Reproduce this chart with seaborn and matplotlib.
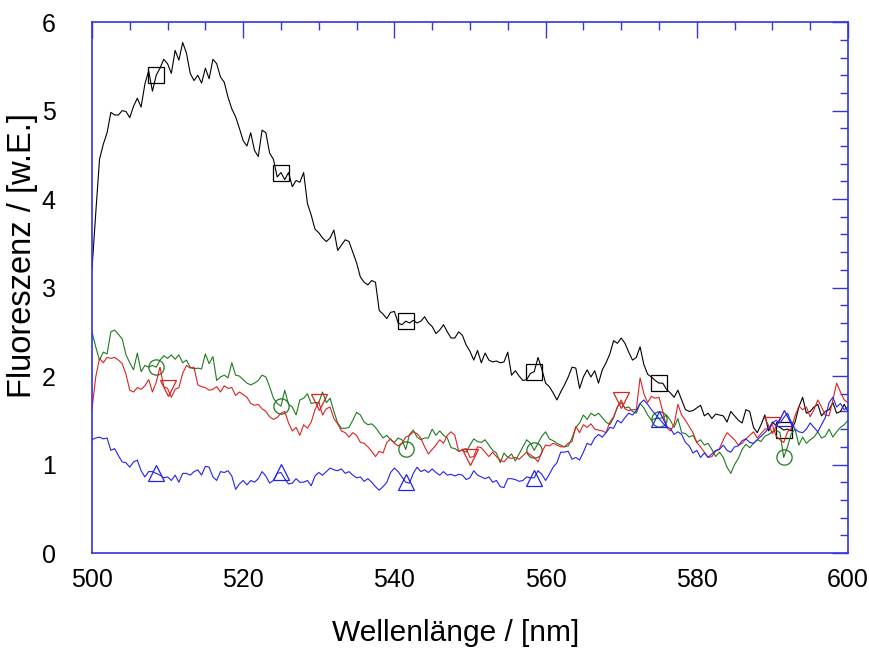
import matplotlib
matplotlib.use("Agg")
import matplotlib.pyplot as plt
from matplotlib.ticker import MultipleLocator, AutoMinorLocator
import numpy as np
import seaborn as sns

# wavelength grid, 0.5 nm steps from 500 to 600 nm
wl = np.linspace(500, 600, 201)

black = [
3.20, 3.84, 4.45, 4.62, 4.75, 4.98, 4.95, 4.95, 5.00, 4.99,
4.92, 5.05, 5.14, 5.04, 5.30, 5.45, 5.22, 5.40, 5.48, 5.58,
5.53, 5.42, 5.68, 5.57, 5.77, 5.65, 5.42, 5.34, 5.40, 5.31,
5.48, 5.36, 5.58, 5.53, 5.38, 5.32, 5.15, 5.02, 4.93, 4.80,
4.66, 4.60, 4.75, 4.55, 4.48, 4.78, 4.75, 4.52, 4.45, 4.25,
4.30, 4.22, 4.30, 4.14, 4.21, 4.19, 4.30, 3.95, 3.82, 3.66,
3.62, 3.56, 3.52, 3.56, 3.65, 3.42, 3.48, 3.54, 3.52, 3.40,
3.28, 3.12, 3.06, 3.03, 3.08, 3.06, 2.74, 2.70, 2.65, 2.72,
2.73, 2.60, 2.58, 2.62, 2.60, 2.63, 2.60, 2.62, 2.67, 2.60,
2.56, 2.48, 2.52, 2.58, 2.50, 2.43, 2.43, 2.50, 2.46, 2.35,
2.28, 2.18, 2.29, 2.15, 2.26, 2.18, 2.16, 2.17, 2.15, 2.16,
2.27, 2.01, 2.06, 2.00, 1.95, 1.96, 2.03, 2.05, 2.21, 2.08,
1.92, 1.88, 1.81, 1.73, 1.82, 1.90, 1.99, 2.10, 2.09, 1.86,
1.99, 2.07, 1.99, 2.06, 1.92, 2.07, 2.15, 2.25, 2.40, 2.37,
2.43, 2.37, 2.27, 2.18, 2.21, 2.33, 2.13, 2.02, 1.99, 1.95,
1.92, 1.92, 1.85, 1.81, 1.76, 1.84, 1.73, 1.62, 1.60, 1.61,
1.64, 1.67, 1.55, 1.58, 1.52, 1.57, 1.56, 1.55, 1.48, 1.60,
1.55, 1.50, 1.47, 1.62, 1.60, 1.42, 1.36, 1.45, 1.56, 1.38,
1.48, 1.44, 1.42, 1.39, 1.40, 1.38, 1.48, 1.65, 1.76, 1.58,
1.60, 1.65, 1.68, 1.55, 1.60, 1.62, 1.70, 1.58, 1.60, 1.68,
1.60]

green = [
2.50, 2.33, 2.18, 2.27, 2.25, 2.50, 2.52, 2.47, 2.42, 2.24,
2.15, 2.07, 2.26, 2.05, 2.12, 2.10, 2.12, 2.10, 2.18, 2.23,
2.20, 2.24, 2.19, 2.24, 2.15, 2.18, 2.10, 2.08, 2.09, 2.08,
2.25, 2.14, 2.22, 1.95, 1.99, 2.01, 1.98, 2.15, 2.01, 2.00,
1.96, 1.92, 1.90, 1.92, 1.95, 2.01, 1.99, 1.88, 1.75, 1.69,
1.66, 1.84, 1.68, 1.65, 1.56, 1.73, 1.75, 1.80, 1.69, 1.70,
1.70, 1.82, 1.70, 1.75, 1.60, 1.47, 1.41, 1.41, 1.42, 1.50,
1.59, 1.56, 1.48, 1.45, 1.46, 1.42, 1.36, 1.30, 1.33, 1.28,
1.25, 1.30, 1.28, 1.17, 1.34, 1.39, 1.31, 1.28, 1.30, 1.30,
1.40, 1.33, 1.38, 1.33, 1.30, 1.19, 1.18, 1.15, 1.16, 1.14,
1.22, 1.29, 1.26, 1.25, 1.28, 1.22, 1.16, 1.13, 1.02, 1.13,
1.08, 1.12, 1.04, 1.12, 1.20, 1.28, 1.24, 1.16, 1.24, 1.32,
1.37, 1.29, 1.27, 1.24, 1.22, 1.20, 1.21, 1.30, 1.42, 1.47,
1.56, 1.51, 1.58, 1.55, 1.58, 1.53, 1.48, 1.45, 1.53, 1.65,
1.70, 1.64, 1.65, 1.60, 1.58, 1.69, 1.64, 1.56, 1.50, 1.52,
1.52, 1.53, 1.56, 1.50, 1.42, 1.52, 1.36, 1.35, 1.31, 1.33,
1.25, 1.28, 1.22, 1.24, 1.17, 1.09, 1.14, 1.08, 0.97, 0.90,
1.00, 1.07, 1.17, 1.23, 1.19, 1.24, 1.28, 1.26, 1.32, 1.34,
1.37, 1.39, 1.36, 1.08, 1.20, 1.35, 1.40, 1.22, 1.31, 1.24,
1.28, 1.31, 1.37, 1.30, 1.32, 1.40, 1.31, 1.37, 1.42, 1.45,
1.50]

red = [
1.62, 1.99, 2.20, 2.15, 2.21, 2.20, 2.21, 2.18, 2.14, 2.02,
1.84, 1.82, 1.87, 1.85, 1.89, 1.96, 1.82, 1.93, 2.10, 1.88,
1.86, 1.76, 1.85, 1.87, 2.03, 2.12, 2.09, 2.10, 1.90, 1.88,
1.87, 1.84, 1.85, 1.88, 1.82, 1.89, 1.86, 1.87, 1.78, 1.82,
1.79, 1.76, 1.69, 1.67, 1.68, 1.63, 1.60, 1.54, 1.51, 1.53,
1.58, 1.60, 1.47, 1.38, 1.42, 1.33, 1.45, 1.41, 1.48, 1.62,
1.71, 1.56, 1.63, 1.65, 1.52, 1.46, 1.38, 1.36, 1.31, 1.36,
1.33, 1.25, 1.24, 1.20, 1.15, 1.09, 1.15, 1.13, 1.25, 1.29,
1.24, 1.21, 1.24, 1.31, 1.33, 1.37, 1.35, 1.30, 1.20, 1.12,
1.17, 1.22, 1.28, 1.24, 1.33, 1.37, 1.33, 1.15, 1.17, 1.18,
1.08, 1.09, 1.20, 1.19, 1.14, 1.09, 1.14, 1.09, 1.05, 1.03,
1.08, 1.07, 1.08, 1.06, 1.10, 1.14, 1.11, 1.08, 1.03, 1.14,
1.22, 1.21, 1.24, 1.22, 1.20, 1.20, 1.24, 1.26, 1.43, 1.36,
1.45, 1.42, 1.46, 1.40, 1.39, 1.38, 1.36, 1.48, 1.54, 1.65,
1.73, 1.63, 1.61, 1.62, 1.62, 1.98, 1.80, 1.70, 1.77, 1.75,
1.76, 1.60, 1.42, 1.38, 1.45, 1.68, 1.56, 1.50, 1.43, 1.36,
1.25, 1.20, 1.14, 1.08, 1.09, 1.15, 1.18, 1.28, 1.36, 1.32,
1.28, 1.22, 1.24, 1.29, 1.33, 1.37, 1.30, 1.35, 1.40, 1.41,
1.45, 1.32, 1.28, 1.25, 1.37, 1.41, 1.55, 1.66, 1.62, 1.65,
1.54, 1.62, 1.73, 1.65, 1.56, 1.55, 1.73, 1.92, 1.82, 1.73,
1.70]

blue = [
1.28, 1.30, 1.31, 1.29, 1.30, 1.16, 1.18, 1.10, 1.03, 1.02,
0.97, 1.03, 1.05, 0.93, 0.86, 0.92, 0.92, 0.90, 0.88, 0.85,
0.86, 0.82, 0.88, 0.80, 0.90, 0.90, 0.88, 0.92, 0.94, 0.88,
0.98, 0.97, 0.86, 0.82, 0.92, 0.91, 0.93, 0.87, 0.72, 0.78,
0.82, 0.77, 0.82, 0.80, 0.84, 0.92, 0.87, 0.79, 0.82, 0.90,
0.91, 0.84, 0.78, 0.79, 0.84, 0.80, 0.80, 0.82, 0.76, 0.87,
0.91, 0.88, 0.92, 0.96, 0.94, 0.93, 0.95, 0.90, 0.92, 0.88,
0.85, 0.86, 0.81, 0.84, 0.80, 0.75, 0.71, 0.75, 0.80, 0.91,
0.96, 0.92, 0.86, 0.80, 0.79, 0.90, 0.97, 0.92, 0.94, 0.91,
0.95, 0.91, 0.88, 0.92, 0.88, 0.89, 0.87, 0.89, 0.88, 0.83,
0.85, 0.93, 0.88, 0.86, 0.84, 0.86, 0.80, 0.82, 0.75, 0.74,
0.84, 0.84, 0.83, 0.81, 0.82, 0.86, 0.85, 0.85, 0.93, 0.89,
0.82, 0.89, 0.97, 1.02, 1.14, 1.14, 1.15, 1.06, 1.08, 1.05,
1.14, 1.24, 1.22, 1.30, 1.34, 1.31, 1.36, 1.42, 1.41, 1.50,
1.47, 1.53, 1.58, 1.56, 1.61, 1.69, 1.73, 1.68, 1.62, 1.57,
1.52, 1.47, 1.42, 1.41, 1.34, 1.37, 1.34, 1.25, 1.21, 1.13,
1.16, 1.08, 1.13, 1.08, 1.12, 1.16, 1.17, 1.22, 1.16, 1.14,
1.20, 1.21, 1.27, 1.29, 1.25, 1.24, 1.28, 1.32, 1.36, 1.41,
1.47, 1.50, 1.47, 1.53, 1.58, 1.48, 1.40, 1.37, 1.36, 1.40,
1.47, 1.42, 1.37, 1.45, 1.53, 1.70, 1.76, 1.65, 1.69, 1.62,
1.65]

# marker positions (sample indices)
marks_6 = [17, 50, 83, 117, 150, 183]
marks_red = [20, 60, 100, 140, 180]

frame_blue = "#3434e0"

sns.set_theme(style="white")
plt.rcParams['font.family'] = ['Liberation Sans', 'DejaVu Sans']
plt.rcParams['text.color'] = 'black'
plt.rcParams['axes.labelcolor'] = 'black'

fig = plt.figure(figsize=(8.7, 6.49), dpi=100)
ax = fig.add_axes([0.1057, 0.1479, 0.869, 0.818])

series = [
    (black, "#000000", "s", marks_6, 11.5),
    (green, "#1f7a1f", "o", marks_6, 11),
    (red, "#dd2222", "v", marks_red, 12),
    (blue, "#2222ee", "^", marks_6, 12),
]
for vals, col, mk, me, ms in series:
    sns.lineplot(x=wl, y=vals, ax=ax, color=col, lw=0.8, errorbar=None,
                 marker=mk, markevery=me, markersize=ms,
                 markerfacecolor="none", markeredgecolor=col,
                 markeredgewidth=0.9)

ax.set_xlim(500, 600)
ax.set_ylim(0, 6)
ax.xaxis.set_major_locator(MultipleLocator(20))
ax.xaxis.set_minor_locator(AutoMinorLocator(4))
ax.yaxis.set_major_locator(MultipleLocator(1))
ax.yaxis.set_minor_locator(AutoMinorLocator(5))

for sp in ax.spines.values():
    sp.set_visible(True)
    sp.set_color(frame_blue)
    sp.set_linewidth(1.2)

ax.tick_params(which="both", direction="in", top=True, right=True,
               color=frame_blue, labelcolor="black", width=1)
ax.tick_params(which="major", length=11.5, labelsize=18)
ax.tick_params(which="minor", length=5.8)
ax.tick_params(axis="x", which="major", pad=11)
ax.tick_params(axis="y", which="major", pad=26)

ax.set_xlabel("Wellenlänge / [nm]", fontsize=21.5)
ax.set_ylabel("Fluoreszenz / [w.E.]", fontsize=23.5)
ax.xaxis.set_label_coords(0.481, -0.125)
ax.yaxis.set_label_coords(-0.071, 0.56)

fig.savefig("out.png", dpi=100)
